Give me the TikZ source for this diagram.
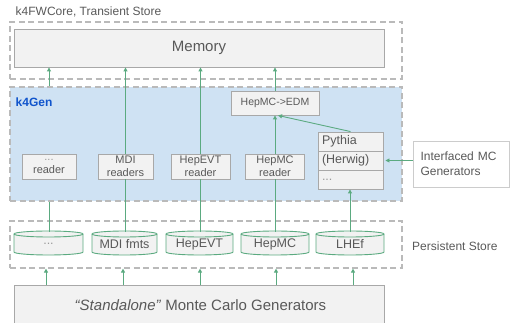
\documentclass[tikz,border=0pt]{standalone}
\usepackage{fontspec}
\setmainfont{Liberation Sans}
\usetikzlibrary{arrows.meta,calc}
\definecolor{grn}{HTML}{5BAA80}
\definecolor{dgray}{HTML}{BABABA}
\definecolor{bgray}{HTML}{A8A8A8}
\definecolor{boxfill}{HTML}{F2F2F2}
\definecolor{txt}{HTML}{595959}
\definecolor{ltxt}{HTML}{9A9A9A}
\definecolor{k4fill}{HTML}{CFE2F3}
\definecolor{k4text}{HTML}{1155CC}
\definecolor{wbord}{HTML}{CCCCCC}
\newcommand\mycyl[4]{%
  \filldraw[cylst] ({#2-(#3)/2},89) -- ({#2-(#3)/2},71)
    arc[start angle=180,end angle=360,x radius={(#3)/2*1pt},y radius=3pt]
    -- ({#2+(#3)/2},89)
    arc[start angle=0,end angle=180,x radius={(#3)/2*1pt},y radius=3pt] -- cycle;
  \draw[cylst] ({#2-(#3)/2},89)
    arc[start angle=180,end angle=360,x radius={(#3)/2*1pt},y radius=3pt];
  \node[lbl,font=\fontsize{12.5}{14}\selectfont,minimum width=#3,minimum height=24] (#1) at (#2,79) {#4};}
\begin{document}
\begin{tikzpicture}[x=1pt,y=1pt,
  dbox/.style={draw=dgray,line width=1.2pt,dash pattern=on 6pt off 3.5pt,inner sep=0pt},
  gbox/.style={draw=bgray,fill=boxfill,line width=0.9pt,text=txt,inner sep=0pt,align=center},
  readerbox/.style={gbox,minimum height=25,font=\fontsize{11}{13}\selectfont},
  pyrow/.style={gbox,minimum height=19,inner xsep=4pt,text width=57pt,align=left,font=\fontsize{12.5}{14}\selectfont},
  cylst/.style={draw=grn,fill=boxfill,line width=0.9pt},
  link/.style={draw=grn,line width=0.9pt},
  arr/.style={link,-{Triangle[length=4pt,width=4pt]}},
  lbl/.style={text=txt,font=\fontsize{12}{14}\selectfont,inner sep=0pt}]

\useasboundingbox (0,0) rectangle (513,323);

% transient store
\node[lbl,anchor=west] (title) at (15.5,311) {k4FWCore, Transient Store};
\node[dbox,minimum width=392,minimum height=57] (ts) at (206,272.5) {};
\node[gbox,minimum width=370,minimum height=38,font=\fontsize{15}{18}\selectfont] (mem) at (199,275) {Memory};

% k4Gen
\node[dbox,fill=k4fill,minimum width=392,minimum height=114] (k4) at (206,179) {};
\node[anchor=west,inner sep=0pt,text=k4text,font=\bfseries\fontsize{12}{14}\selectfont] (k4lbl) at (15.5,221) {k4Gen};

\node[readerbox,minimum width=54] (r1) at (49,156.5) {\textcolor{ltxt}{...}\\reader};
\node[readerbox,minimum width=55] (r2) at (125.5,156.5) {MDI\\readers};
\node[readerbox,minimum width=59] (r3) at (200.5,156.5) {HepEVT\\reader};
\node[readerbox,minimum width=59] (r4) at (275,156.5) {HepMC\\reader};
\node[gbox,minimum width=88,minimum height=24,font=\fontsize{10.5}{13}\selectfont] (edm) at (275,220) {HepMC->EDM};

\node[pyrow,minimum width=65] (py) at (350.5,181.5) {Pythia};
\node[pyrow,minimum width=65] (hw) at (350.5,162.5) {(Herwig)};
\node[pyrow,minimum width=65,text=ltxt] (pd) at (350.5,143.5) {...};

\node[draw=wbord,fill=white,line width=0.9pt,minimum width=96,minimum height=46,inner xsep=7.5pt,text width=81pt,align=left,text=txt,font=\fontsize{12}{15}\selectfont] (intf) at (461,159) {Interfaced MC\\Generators};

% persistent store
\node[dbox,minimum width=392,minimum height=47] (ps) at (206,78.5) {};
\node[lbl,anchor=west] (pslbl) at (412,77) {Persistent Store};
\mycyl{c1}{48.5}{69}{\textcolor{ltxt}{...}}
\mycyl{c2}{124.5}{65}{MDI fmts}
\mycyl{c3}{199.5}{67}{HepEVT}
\mycyl{c4}{275}{68}{HepMC}
\mycyl{c5}{350}{68}{LHEf}

% standalone
\node[gbox,minimum width=370,minimum height=43] (sa) at (199,16.5) {};
\node[lbl,font=\fontsize{15}{18}\selectfont] (satext) at (200.5,18) {\textit{“Standalone”} Monte Carlo Generators};

% connectors
\draw[link] (r1.south |- c1.north) -- (r1.south |- k4.south);
\draw[arr] (r1.north |- k4.north) -- (r1.north |- mem.south);
\draw[link] (r2.south |- c2.north) -- (r2.south);
\draw[arr] (r2.north) -- (r2.north |- mem.south);
\draw[link] (r3.south |- c3.north) -- (r3.south);
\draw[arr] (r3.north) -- (r3.north |- mem.south);
\draw[link] (r4.south |- c4.north) -- (r4.south);
\draw[arr] (r4.north) -- (edm.south);
\draw[arr] (edm.north) -- (edm.north |- mem.south);
\draw[arr] (c5.north) -- (c5.north |- pd.south);
\draw[arr] (py.north) -- ([xshift=3pt]edm.south);
\draw[arr,shorten >=2pt] (intf.west |- hw.east) -- (hw.east);

\draw[arr] ([xshift=-2.5pt]c1.south |- sa.north) -- ([xshift=-2.5pt]c1.south |- ps.south);
\draw[arr] ([xshift=-1.5pt]c2.south |- sa.north) -- ([xshift=-1.5pt]c2.south |- ps.south);
\draw[arr] ([xshift=0.5pt]c3.south |- sa.north) -- ([xshift=0.5pt]c3.south |- ps.south);
\draw[arr] ([xshift=1pt]c4.south |- sa.north) -- ([xshift=1pt]c4.south |- ps.south);
\draw[arr] ([xshift=3pt]c5.south |- sa.north) -- ([xshift=3pt]c5.south |- ps.south);
\end{tikzpicture}
\end{document}
